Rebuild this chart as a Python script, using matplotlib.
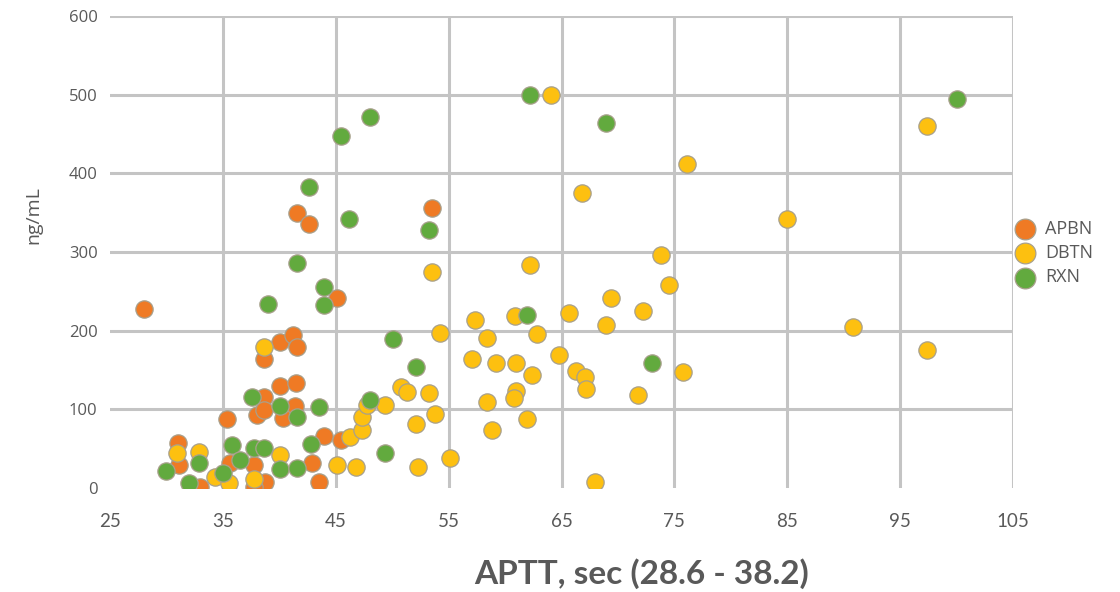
import matplotlib
matplotlib.use("Agg")
import matplotlib.pyplot as plt

# ---- data ----
apbn_x = [28.0, 41.6, 42.6, 53.5, 45.1, 40.1, 41.2, 41.6, 38.6, 40.1, 41.5, 38.6, 38.0, 38.6,
          41.4, 40.3, 35.4, 31.0, 31.1, 33.0, 35.6, 37.8, 38.7, 37.8, 42.9, 43.5, 44.0, 45.5]
apbn_y = [228, 350, 335, 356, 242, 186, 195, 179, 164, 130, 133, 116, 93, 99,
          104, 89, 88, 57, 29, 1, 32, 29, 8, 1, 32, 8, 66, 61]

dbtn_x = [38.6, 30.9, 32.9, 34.3, 35.5, 40.1, 37.8, 45.1, 46.8, 46.3, 47.3, 47.3, 49.4, 50.8,
          51.3, 53.3, 53.8, 52.1, 55.1, 52.3, 54.2, 53.5, 62.2, 64.1, 66.8, 76.1, 73.8, 74.5,
          69.4, 72.2, 65.7, 68.9, 60.9, 57.3, 58.4, 62.8, 57.1, 59.2, 61.0, 62.4, 64.8, 66.3,
          67.1, 67.2, 75.8, 71.8, 61.0, 60.8, 58.4, 61.9, 58.8, 68.0, 85.0, 90.8, 97.4, 97.4,
          47.8]
dbtn_y = [179, 45, 46, 14, 6, 42, 11, 29, 27, 65, 74, 90, 106, 128,
          122, 121, 94, 81, 38, 27, 197, 275, 284, 500, 375, 412, 296, 258,
          241, 225, 223, 207, 219, 214, 191, 196, 164, 159, 159, 144, 169, 149,
          141, 126, 148, 118, 123, 114, 109, 88, 74, 8, 342, 205, 460, 176,
          106]

rxn_x = [39.0, 44.0, 44.0, 37.6, 40.1, 41.6, 43.5, 32.9, 30.0, 32.0, 35.8, 36.5, 35.0, 37.8,
         38.6, 40.1, 41.6, 42.8, 50.1, 52.1, 48.0, 49.4, 61.9, 62.2, 68.9, 53.3, 48.0, 45.5,
         42.6, 46.2, 41.6, 73.0, 100.0]
rxn_y = [234, 256, 232, 116, 104, 90, 103, 32, 22, 6, 55, 36, 19, 51,
         51, 24, 25, 56, 190, 154, 112, 44, 220, 500, 464, 328, 471, 448,
         382, 342, 286, 159, 495]

series_names = ["APBN", "DBTN", "RXN"]
series_colors = ["#EF7A24", "#FDC010", "#62AA3E"]
x_ticks = [25, 35, 45, 55, 65, 75, 85, 95, 105]
y_ticks = [0, 100, 200, 300, 400, 500, 600]
x_label = "APTT, sec (28.6 - 38.2)"
y_label = "ng/mL"

# ---- figure ----
fig = plt.figure(figsize=(11.2, 5.92), dpi=100)
ax = fig.add_axes([110 / 1120, 1 - 488 / 592, (1013 - 110) / 1120, (488 - 16) / 592])

for xs, ys, name, col in zip([apbn_x, dbtn_x, rxn_x], [apbn_y, dbtn_y, rxn_y],
                             series_names, series_colors):
    ax.scatter(xs, ys, s=155, color=col, edgecolors="#A8A08C", linewidths=0.9,
               label=name, zorder=3)

ax.set_xlim(25, 105)
ax.set_ylim(0, 600)
ax.set_xticks(x_ticks)
ax.set_yticks(y_ticks)
ax.grid(True, color="#C4C4C4", linewidth=2.2, zorder=0)
ax.set_axisbelow(True)
ax.get_ygridlines()[0].set_visible(False)
ax.get_xgridlines()[0].set_visible(False)
for sp in ax.spines.values():
    sp.set_visible(False)
ax.tick_params(length=0)
ax.tick_params(axis="y", pad=9, labelsize=12, labelcolor="#595959")
ax.tick_params(axis="x", pad=18, labelsize=13.5, labelcolor="#595959")
for lab in ax.get_xticklabels():
    lab.set_fontfamily("Lato")
for lab in ax.get_yticklabels():
    lab.set_fontfamily("Open Sans")

fig.text(642 / 1120, 1 - 574 / 592, x_label, ha="center", va="center",
         fontsize=24, fontweight="bold", color="#595959", family="Lato")
fig.text(33 / 1120, 1 - 215 / 592, y_label, ha="center", va="center",
         rotation=90, fontsize=14, color="#595959", family="Open Sans")

leg = fig.legend(loc="center left", bbox_to_anchor=(1007 / 1120, 1 - 253 / 592),
                 frameon=False, handletextpad=0.1, labelspacing=0.35,
                 markerscale=1.2, borderpad=0, borderaxespad=0,
                 prop={"family": "Open Sans", "size": 13})
for t in leg.get_texts():
    t.set_color("#595959")

fig.savefig("out.png", dpi=100)
